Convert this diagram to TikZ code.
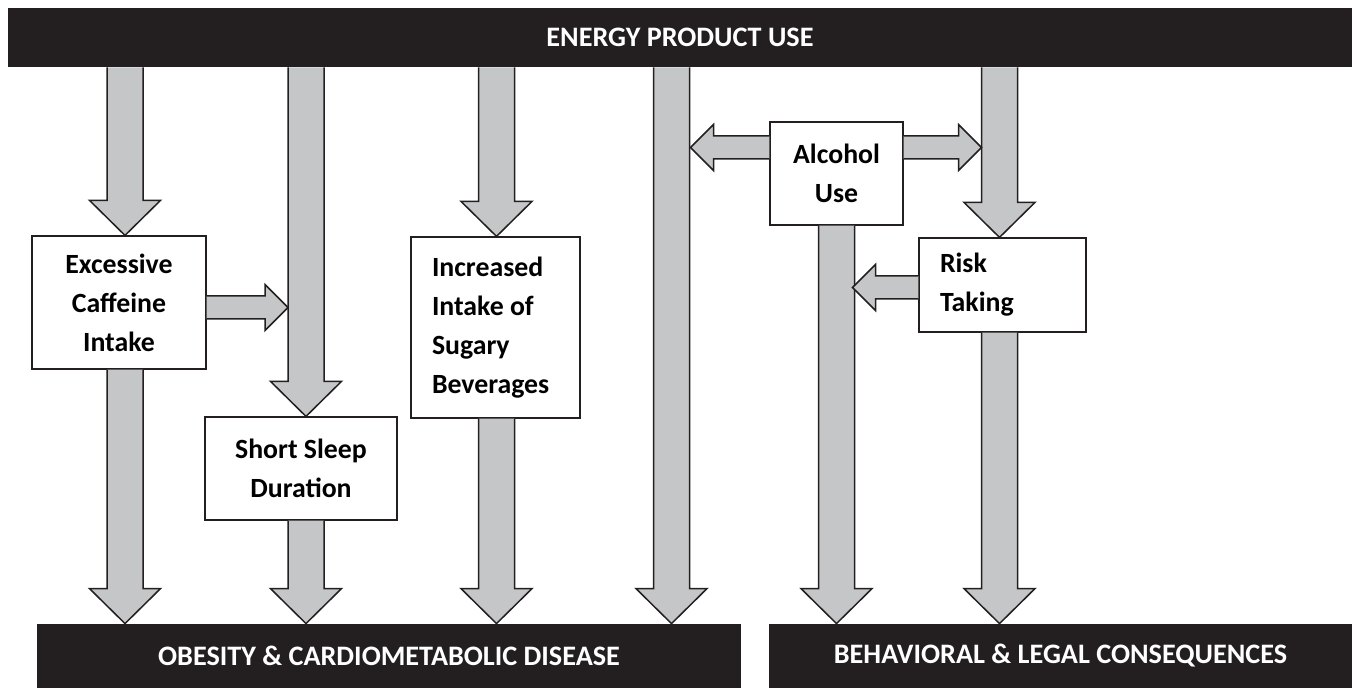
\documentclass[tikz,border=0pt]{standalone}
\usepackage{fontspec}
\setmainfont{Carlito}
\usetikzlibrary{calc}
\definecolor{barblack}{HTML}{231F20}
\definecolor{shaftgray}{HTML}{C5C6C8}
\tikzset{
  bar/.style={fill=barblack, text=white, inner sep=0pt,
    font=\bfseries\fontsize{14.1}{17}\selectfont},
  box/.style={draw=barblack, fill=white, line width=0.6pt, inner sep=0pt,
    align=center, font=\bfseries\fontsize{13.9}{19.5}\selectfont},
  leftbox/.style={box, align=flush left, inner xsep=10.5pt},
  downarrow/.style={draw=barblack, fill=shaftgray, line width=0.75pt,
    to path={let \p1=(\tikztostart), \p2=(\tikztotarget) in
      (\x2-9pt,\y1) -- (\x2-9pt,\y2+17.5pt) -- (\x2-17.75pt,\y2+17.5pt) -- (\x2,\y2)
      -- (\x2+17.75pt,\y2+17.5pt) -- (\x2+9pt,\y2+17.5pt) -- (\x2+9pt,\y1)}},
  sidearrow/.style={draw=barblack, fill=shaftgray, line width=0.75pt,
    to path={let \p1=(\tikztostart), \p2=(\tikztotarget), \n1={11.5*sign(\x2-\x1)} in
      (\x1,\y1+5.75pt) -- (\x2-\n1*1pt,\y1+5.75pt) -- (\x2-\n1*1pt,\y1+11.5pt) -- (\x2,\y1)
      -- (\x2-\n1*1pt,\y1-11.5pt) -- (\x2-\n1*1pt,\y1-5.75pt) -- (\x1,\y1-5.75pt)}}
}

\begin{document}
\begin{tikzpicture}[x=0.5pt,y=-0.5pt]
  \useasboundingbox (0,0) rectangle (1357,688);

  % bars
  \node[bar, minimum width=672pt, minimum height=29.5pt] (energy) at (680,37.5) {ENERGY PRODUCT USE};
  \node[bar, minimum width=352pt, minimum height=32pt] (obesity) at (389,656) {OBESITY \& CARDIOMETABOLIC DISEASE};
  \node[bar, minimum width=291.5pt, minimum height=32pt] (legal) at (1060.5,656) {BEHAVIORAL \& LEGAL CONSEQUENCES};

  % arrow columns
  \coordinate (c1) at (125,0);
  \coordinate (c2) at (306,0);
  \coordinate (c3) at (496.5,0);
  \coordinate (c4) at (671.5,0);
  \coordinate (c5) at (836.5,0);
  \coordinate (c6) at (999.5,0);

  \node[box, minimum width=87pt, minimum height=66.5pt] (caffeine) at (119,302.5) {Excessive\\Caffeine\\Intake};
  \node[box, minimum width=96pt, minimum height=51.5pt] (sleep) at (301,468.5) {Short Sleep\\Duration};
  \node[leftbox, text width=63.5pt, minimum height=90.5pt] (sugary) at (495.5,327.5) {Increased\\Intake of\\Sugary\\Beverages};
  \node[box, minimum width=66.5pt, minimum height=51.5pt] (alcohol) at (836.5,173.5) {Alcohol\\Use};
  \node[leftbox, text width=62.5pt, minimum height=47pt] (risk) at (1002.5,285) {Risk\\Taking};

  \draw[downarrow] (energy.south -| c1) to (caffeine.north -| c1);
  \draw[downarrow] (energy.south -| c2) to (sleep.north -| c2);
  \draw[downarrow] (energy.south -| c3) to (sugary.north -| c3);
  \draw[downarrow] (energy.south -| c4) to (obesity.north -| c4);
  \draw[downarrow] (energy.south -| c6) to (risk.north -| c6);
  \draw[downarrow] (caffeine.south -| c1) to (obesity.north -| c1);
  \draw[downarrow] (sleep.south -| c2) to (obesity.north -| c2);
  \draw[downarrow] (sugary.south -| c3) to (obesity.north -| c3);
  \draw[downarrow] (alcohol.south -| c5) to (legal.north -| c5);
  \draw[downarrow] (risk.south -| c6) to (legal.north -| c6);

  \draw[sidearrow] ([yshift=-2.5pt]caffeine.east) to ([xshift=-9pt]c2);
  \draw[sidearrow] ([yshift=13pt]alcohol.west) to ([xshift=9.5pt]c4);
  \draw[sidearrow] ([yshift=13pt]alcohol.east) to ([xshift=-9pt]c6);
  \draw[sidearrow] ([yshift=-1.25pt]risk.west) to ([xshift=8pt]c5);
\end{tikzpicture}
\end{document}
